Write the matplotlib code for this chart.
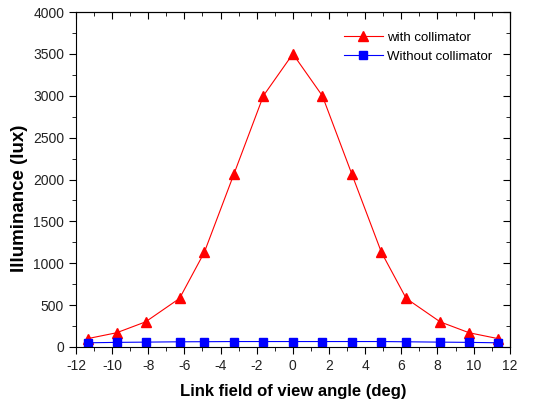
import numpy as np
import matplotlib.pyplot as plt
from matplotlib.ticker import MultipleLocator

plt.rcParams['font.family'] = ['Liberation Sans', 'DejaVu Sans']
plt.rcParams['axes.unicode_minus'] = False

angle = [-11.35, -9.75, -8.15, -6.27, -4.9, -3.27, -1.63, 0,
         1.63, 3.27, 4.9, 6.27, 8.15, 9.75, 11.35]
with_coll = [100, 170, 300, 580, 1130, 2060, 3000, 3500,
             3000, 2060, 1130, 580, 300, 170, 100]
without_coll = [50, 55, 58, 62, 63, 65, 65, 65,
                65, 65, 65, 62, 58, 55, 50]

fig = plt.figure(figsize=(5.4, 4.01), dpi=100)
ax = fig.add_axes([0.1407, 0.1347, 0.8033, 0.8353])

ax.plot(angle, with_coll, color='red', lw=0.8, marker='^', ms=7,
        label='with collimator')
ax.plot(angle, without_coll, color='blue', lw=0.8, marker='s', ms=5.5,
        label='Without collimator')

ax.set_xlim(-12, 12)
ax.set_ylim(0, 4000)
ax.xaxis.set_major_locator(MultipleLocator(2))
ax.xaxis.set_minor_locator(MultipleLocator(1))
ax.yaxis.set_major_locator(MultipleLocator(500))
ax.yaxis.set_minor_locator(MultipleLocator(250))
ax.tick_params(which='both', direction='out', labelsize=10, top=False, right=False,
               labelcolor='#222222')
ax.tick_params(which='major', length=5)
ax.tick_params(which='minor', length=3)

# mirrored inward ticks on top/right, like Origin
sec_x = ax.secondary_xaxis('top')
sec_x.xaxis.set_major_locator(MultipleLocator(2))
sec_x.xaxis.set_minor_locator(MultipleLocator(1))
sec_x.tick_params(which='both', direction='in', labeltop=False)
sec_x.tick_params(which='major', length=5)
sec_x.tick_params(which='minor', length=3)
sec_y = ax.secondary_yaxis('right')
sec_y.yaxis.set_major_locator(MultipleLocator(500))
sec_y.yaxis.set_minor_locator(MultipleLocator(250))
sec_y.tick_params(which='both', direction='in', labelright=False)
sec_y.tick_params(which='major', length=5)
sec_y.tick_params(which='minor', length=3)

ax.set_xlabel('Link field of view angle (deg)', fontsize=12, fontweight='bold', labelpad=8)
ax.set_ylabel('Illuminance (lux)', fontsize=13.5, fontweight='bold')
ax.yaxis.set_label_coords(-0.1106, 0.445)

ax.legend(loc='upper right', frameon=False, fontsize=9.5, handlelength=3.0,
          handletextpad=0.3, labelspacing=0.55, bbox_to_anchor=(0.972, 0.958),
          borderaxespad=0)

fig.savefig('out.png', dpi=100)
